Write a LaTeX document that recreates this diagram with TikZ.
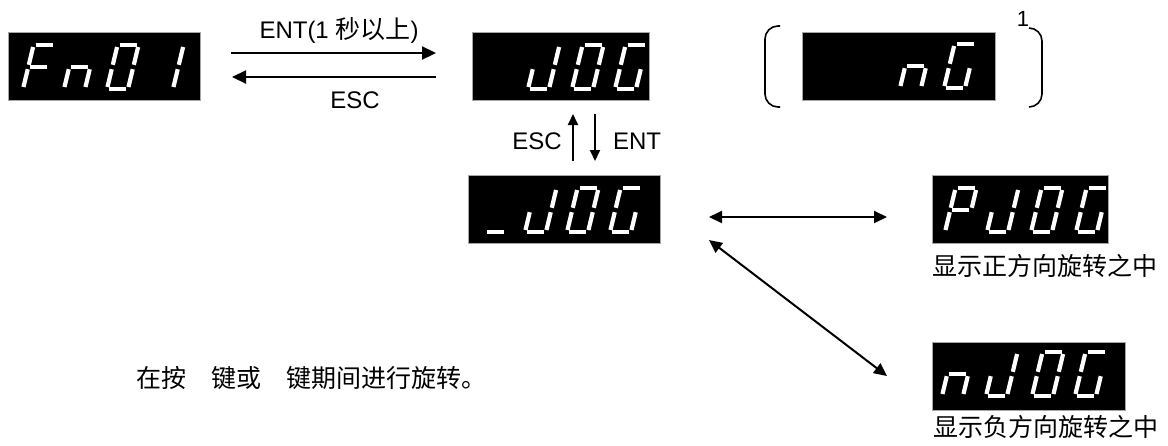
\documentclass[tikz,border=0pt]{standalone}
\usepackage{fontspec}
\setmainfont{Liberation Sans}
\newfontfamily\cjk{Noto Sans CJK SC}
\usetikzlibrary{arrows.meta}
% seven-segment pieces (local cell: width 21, height 44, y up)
\newcommand\Sa{\draw[seg] (2,44)--(19,44);}
\newcommand\Sb{\draw[seg] (21,42)--(21,24.2);}
\newcommand\Sc{\draw[seg] (21,19.8)--(21,2);}
\newcommand\Sd{\draw[seg] (2,0)--(19,0);}
\newcommand\Se{\draw[seg] (0,19.8)--(0,2);}
\newcommand\Sf{\draw[seg] (0,42)--(0,24.2);}
\newcommand\Sg{\draw[seg] (2,22)--(19,22);}
\newcommand\dgF{\Sa\Se\Sf\Sg}
\newcommand\dgn{\Sc\Se\Sg}
\newcommand\dgO{\Sa\Sb\Sc\Sd\Se\Sf}
\newcommand\dgI{\Sb\Sc}
\newcommand\dgJ{\Sb\Sc\Sd\Se}
\newcommand\dgG{\Sa\Sc\Sd\Se\Sf}
\newcommand\dgP{\Sa\Sb\Se\Sf\Sg}
\newcommand\dgU{\Sd}
\newcommand\glyph[3]{\begin{scope}[shift={(#1,#2)},x=1pt,y=1pt,xslant=0.24]#3\end{scope}}
\newcommand\cjkt[1]{{\cjk\fontsize{25}{28}\selectfont #1}}
\begin{document}
\begin{tikzpicture}[x=1pt,y=-1pt,
  disp/.style={draw=gray!70,line width=0.6pt,fill=black,inner sep=0pt,minimum height=68pt},
  seg/.style={draw=white,line width=4.2pt,line cap=butt},
  lat/.style={inner sep=0pt,font=\fontsize{24}{28}\selectfont},
  cj/.style={inner sep=0pt,font=\cjk\fontsize{25}{28}\selectfont},
  arr/.style={line width=2.2pt,-{Triangle[length=14pt,width=13pt]}},
  varr/.style={line width=1.8pt,-{Triangle[length=11pt,width=10pt]}},
  darr/.style={line width=2pt,{Triangle[length=13pt,width=12pt]}-{Triangle[length=13pt,width=12pt]}},
  brk/.style={line width=1.6pt,rounded corners=13pt}]
\useasboundingbox (0,0) rectangle (1168,445);

% display boxes
\node[disp,minimum width=192pt] (fn)   at (104,66) {};
\node[disp,minimum width=177pt] (jog)  at (560.5,66) {};
\node[disp,minimum width=193pt] (ng)   at (898.5,66) {};
\node[disp,minimum width=192pt] (jogb) at (564,209.5) {};
\node[disp,minimum width=176pt] (pjog) at (1020,209.5) {};
\node[disp,minimum width=193pt] (njog) at (1028.5,376.5) {};

% glyphs
\glyph{23}{89}{\dgF}\glyph{64}{89}{\dgn}\glyph{107}{89}{\dgO}\glyph{152}{89}{\dgI}
\glyph{528}{89}{\dgJ}\glyph{572}{89}{\dgO}\glyph{615}{89}{\dgG}
\glyph{900}{88}{\dgn}\glyph{944}{88}{\dgG}
\glyph{485}{232}{\dgU}\glyph{525}{232}{\dgJ}\glyph{567}{232}{\dgO}\glyph{610}{232}{\dgG}
\glyph{945}{232}{\dgP}\glyph{987}{232}{\dgJ}\glyph{1031}{232}{\dgO}\glyph{1076}{232}{\dgG}
\glyph{942}{396}{\dgn}\glyph{986}{396}{\dgJ}\glyph{1032}{396}{\dgO}\glyph{1075}{396}{\dgG}

% brackets
\draw[brk] (780,26) -- (765,26) -- (765,107) -- (780,107);
\draw[brk] (1029,28) -- (1042,28) -- (1042,107) -- (1029,107);

% arrow end points
\coordinate (a1s) at (231,53);  \coordinate (a1e) at (436,53);
\coordinate (a2s) at (436,77);  \coordinate (a2e) at (232,77);
\coordinate (ups) at (573,161); \coordinate (upe) at (573,114);
\coordinate (dns) at (595,114); \coordinate (dne) at (595,161);
\coordinate (h1)  at (709,217); \coordinate (h2)  at (887,217);
\coordinate (d1)  at (709,240); \coordinate (d2)  at (887,376);

\draw[arr] (a1s) -- (a1e);
\draw[arr] (a2s) -- (a2e);
\draw[varr] (ups) -- (upe);
\draw[varr] (dns) -- (dne);
\draw[darr] (h1) -- (h2);
\draw[darr] (d1) -- (d2);

% labels
\node[lat] (lent) at (339,30) {ENT(1 \cjkt{秒以上})};
\node[lat] (lesc) at (355,100) {ESC};
\node[lat] (lesc2) at (537,141) {ESC};
\node[lat] (lent2) at (637,141) {ENT};
\node[inner sep=0pt,font=\fontsize{22}{26}\selectfont] (lone) at (1023,19) {1};
\node[cj] (lpos) at (1045,266) {显示正方向旋转之中};
\node[cj] (lneg) at (1046,427) {显示负方向旋转之中};
\node[cj,anchor=west] (lnote) at (136,378) {在按　键或　键期间进行旋转。};
\end{tikzpicture}
\end{document}
